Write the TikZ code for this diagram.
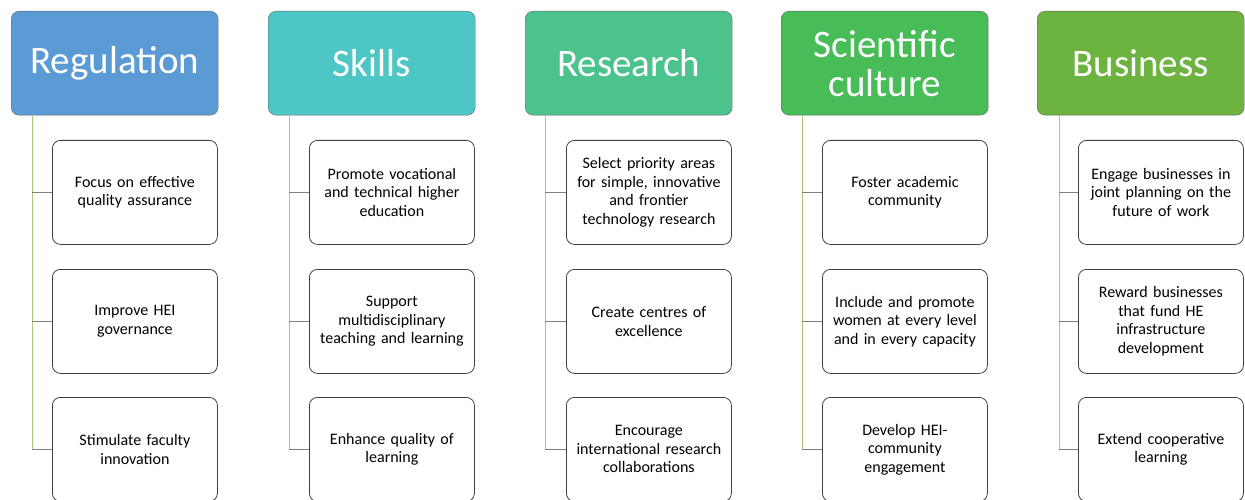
\documentclass[tikz,border=0pt]{standalone}
\usepackage{fontspec}
\setmainfont{Carlito}
\usepackage{tikz}
\usepackage{xcolor}

\definecolor{regblue}{HTML}{5B9BD5}
\definecolor{skillteal}{HTML}{4FC6C6}
\definecolor{resgreen}{HTML}{4CC38C}
\definecolor{scigreen}{HTML}{47BC57}
\definecolor{busgreen}{HTML}{6CB340}
\definecolor{trunkgreen}{HTML}{A9C97A}

\begin{document}
\begin{tikzpicture}[x=1pt,y=1pt,
  header/.style={draw=black!60,rounded corners=8pt,minimum width=207pt,minimum height=104pt,
    text=white,align=center,font=\fontsize{39}{39}\selectfont,anchor=north west,inner sep=0pt},
  item/.style={draw=black!75,thick,rounded corners=8pt,minimum width=165pt,minimum height=104pt,
    text width=155pt,align=center,font=\fontsize{16}{18.5}\selectfont,anchor=north west,inner sep=0pt},
  trunk/.style={trunkgreen,semithick},
  tick/.style={black!50,semithick}]

\useasboundingbox (0,0) rectangle (1245,-500);

% headers
\node[header,fill=regblue] (reg) at (11,-11) {Regulation};
\node[header,fill=skillteal] (ski) at (268,-11) {Skills};
\node[header,fill=resgreen] (res) at (525,-11) {Research};
\node[header,fill=scigreen] (sci) at (781,-11) {Scientific\\culture};
\node[header,fill=busgreen] (bus) at (1037,-11) {Business};

% Regulation
\node[item] (reg1) at (52,-140) {Focus on effective\\quality assurance};
\node[item] (reg2) at (52,-269) {Improve HEI\\governance};
\node[item] (reg3) at (52,-397) {Stimulate faculty\\innovation};

% Skills
\node[item] (ski1) at (309,-140) {Promote vocational\\and technical higher\\education};
\node[item] (ski2) at (309,-269) {Support\\multidisciplinary\\teaching and learning};
\node[item] (ski3) at (309,-397) {Enhance quality of\\learning};

% Research
\node[item] (res1) at (566,-140) {Select priority areas\\for simple, innovative\\and frontier\\technology research};
\node[item] (res2) at (566,-269) {Create centres of\\excellence};
\node[item] (res3) at (566,-397) {Encourage\\international research\\collaborations};

% Scientific culture
\node[item] (sci1) at (822,-140) {Foster academic\\community};
\node[item] (sci2) at (822,-269) {Include and promote\\women at every level\\and in every capacity};
\node[item] (sci3) at (822,-397) {Develop HEI-\\community\\engagement};

% Business
\node[item] (bus1) at (1078,-140) {Engage businesses in\\joint planning on the\\future of work};
\node[item] (bus2) at (1078,-269) {Reward businesses\\that fund HE\\infrastructure\\development};
\node[item] (bus3) at (1078,-397) {Extend cooperative\\learning};

% connectors
\coordinate (regt) at ([xshift=21pt]reg.south west);
\coordinate (skit) at ([xshift=21pt]ski.south west);
\coordinate (rest) at ([xshift=20pt]res.south west);
\coordinate (scit) at ([xshift=21pt]sci.south west);
\coordinate (bust) at ([xshift=22pt]bus.south west);

\draw[trunk] (regt) -- (regt |- reg3.west);
\draw[tick] (reg1.west) -- (reg1.west -| regt);
\draw[tick] (reg2.west) -- (reg2.west -| regt);
\draw[tick] (reg3.west) -- (reg3.west -| regt);

\draw[trunk] (skit) -- (skit |- ski3.west);
\draw[tick] (ski1.west) -- (ski1.west -| skit);
\draw[tick] (ski2.west) -- (ski2.west -| skit);
\draw[tick] (ski3.west) -- (ski3.west -| skit);

\draw[trunk] (rest) -- (rest |- res3.west);
\draw[tick] (res1.west) -- (res1.west -| rest);
\draw[tick] (res2.west) -- (res2.west -| rest);
\draw[tick] (res3.west) -- (res3.west -| rest);

\draw[trunk] (scit) -- (scit |- sci3.west);
\draw[tick] (sci1.west) -- (sci1.west -| scit);
\draw[tick] (sci2.west) -- (sci2.west -| scit);
\draw[tick] (sci3.west) -- (sci3.west -| scit);

\draw[trunk] (bust) -- (bust |- bus3.west);
\draw[tick] (bus1.west) -- (bus1.west -| bust);
\draw[tick] (bus2.west) -- (bus2.west -| bust);
\draw[tick] (bus3.west) -- (bus3.west -| bust);

\end{tikzpicture}
\end{document}
